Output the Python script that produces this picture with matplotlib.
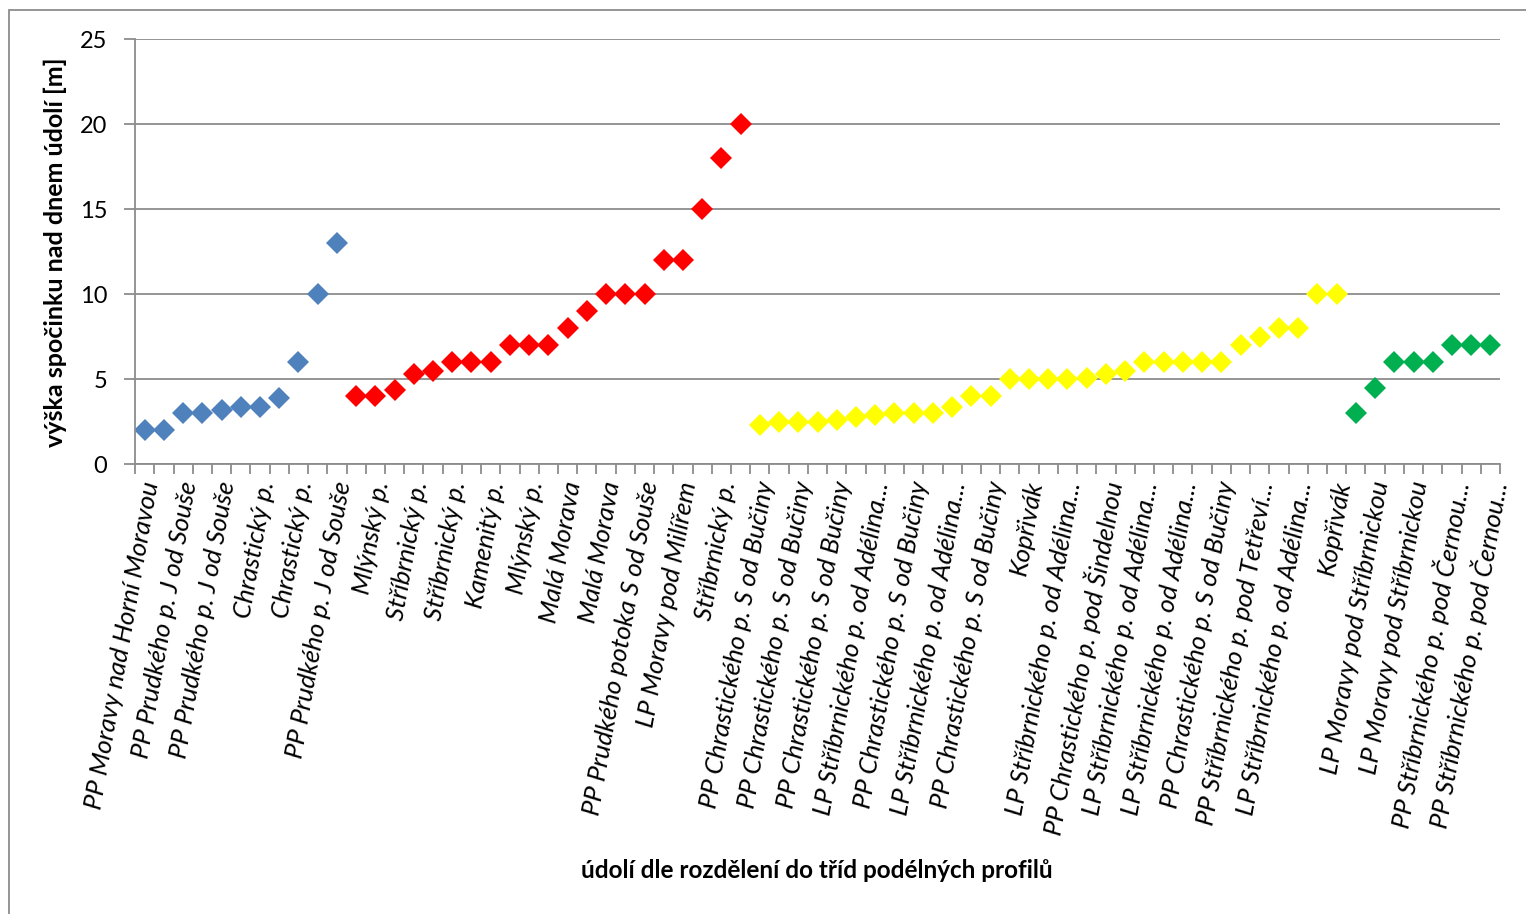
import numpy as np
import matplotlib
matplotlib.use("Agg")
import matplotlib.pyplot as plt
import matplotlib.transforms as mtransforms
from matplotlib.patches import Rectangle
from matplotlib.ticker import MultipleLocator

plt.rcParams['font.family'] = ['Lato', 'DejaVu Sans']

# hodnoty po skupinách (třídy podélných profilů)
blue_vals = [2, 2, 3, 3, 3.2, 3.4, 3.4, 3.9, 6, 10, 13]
red_vals = [4, 4, 4.4, 5.3, 5.5, 6, 6, 6, 7, 7, 7, 8, 9, 10, 10, 10, 12, 12, 15, 18, 20]
yellow_vals = [2.3, 2.5, 2.5, 2.5, 2.6, 2.8, 2.9, 3, 3, 3, 3.4, 4, 4, 5, 5, 5, 5, 5.1,
               5.3, 5.5, 6, 6, 6, 6, 6, 7, 7.5, 8, 8, 10, 10]
green_vals = [3, 4.5, 6, 6, 6, 7, 7, 7]

# popisky (Excel ukazuje jen každou druhou kategorii)
tick_labels = [
    "PP Moravy nad Horní Moravou",
    "PP Prudkého p. J od Souše",
    "PP Prudkého p. J od Souše",
    "Chrastický p.",
    "Chrastický p.",
    "PP Prudkého p. J od Souše",
    "Mlýnský p.",
    "Stříbrnický p.",
    "Stříbrnický p.",
    "Kamenitý p.",
    "Mlýnský p.",
    "Malá Morava",
    "Malá Morava",
    "PP Prudkého potoka S od Souše",
    "LP Moravy pod Milířem",
    "Stříbrnický p.",
    "PP Chrastického p. S od Bučiny",
    "PP Chrastického p. S od Bučiny",
    "PP Chrastického p. S od Bučiny",
    "LP Stříbrnického p. od Adélina...",
    "PP Chrastického p. S od Bučiny",
    "LP Stříbrnického p. od Adélina...",
    "PP Chrastického p. S od Bučiny",
    "Kopřivák",
    "LP Stříbrnického p. od Adélina...",
    "PP Chrastického p. pod Šindelnou",
    "LP Stříbrnického p. od Adélina...",
    "LP Stříbrnického p. od Adélina...",
    "PP Chrastického p. S od Bučiny",
    "PP Stříbrnického p. pod Tetřeví...",
    "LP Stříbrnického p. od Adélina...",
    "Kopřivák",
    "LP Moravy pod Stříbrnickou",
    "LP Moravy pod Stříbrnickou",
    "PP Stříbrnického p. pod Černou...",
    "PP Stříbrnického p. pod Černou...",
]

groups = [
    (blue_vals, "#4F81BD"),
    (red_vals, "#FF0000"),
    (yellow_vals, "#FFFF00"),
    (green_vals, "#00B050"),
]
n_total = sum(len(g[0]) for g in groups)

fig = plt.figure(figsize=(15.26, 9.14), dpi=100)
ax = fig.add_axes([0.0885, 0.492, 0.8945, 0.465])

start = 0
for vals, col in groups:
    xs = np.arange(start, start + len(vals))
    ax.plot(xs, vals, linestyle="none", marker="D", markersize=11.5,
            color=col, markeredgewidth=0)
    start += len(vals)

grid_col = "#8c8c8c"
ax.set_xlim(-0.5, n_total - 0.5)
ax.set_ylim(0, 25)
ax.yaxis.set_major_locator(MultipleLocator(5))
ax.grid(axis="y", color=grid_col, linewidth=1.3)
ax.set_axisbelow(True)

for s in ["top", "right"]:
    ax.spines[s].set_visible(False)
for s in ["left", "bottom"]:
    ax.spines[s].set_color(grid_col)
    ax.spines[s].set_linewidth(1.3)

ax.set_xticks(np.arange(0, n_total, 2))
ax.set_xticklabels(tick_labels, rotation=80, ha="right", va="top",
                   rotation_mode="anchor", fontsize=18.5, style="italic")
ax.set_xticks(np.arange(-0.5, n_total, 1), minor=True)
ax.tick_params(axis="x", which="major", length=0, pad=11)
ax.tick_params(axis="x", which="minor", length=7, width=1.3, color=grid_col)
ax.tick_params(axis="y", length=8, width=1.3, color=grid_col, pad=12,
               labelsize=17)

# popisky trochu doleva
shift = mtransforms.ScaledTranslation(-5 / 100, 0, fig.dpi_scale_trans)
for lbl in ax.get_xticklabels():
    lbl.set_transform(lbl.get_transform() + shift)

ax.set_ylabel("výška spočinku nad dnem údolí [m]", fontsize=18,
              fontweight="bold", labelpad=9)
fig.text(0.5355, 1 - 870 / 914, "údolí dle rozdělení do tříd podélných profilů",
         ha="center", va="center", fontsize=17.5, fontweight="bold")

# rámeček grafu
fig.patches.append(Rectangle((9 / 1526, -0.1), 1.2, 1 - 10 / 914 + 0.1,
                             transform=fig.transFigure, fill=False,
                             edgecolor=grid_col, linewidth=1.3))

fig.savefig("out.png", dpi=100)
